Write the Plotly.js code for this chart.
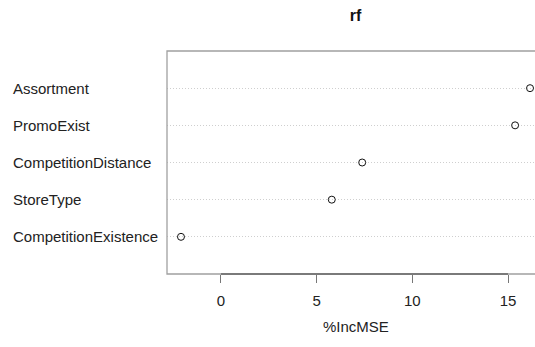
<!DOCTYPE html>
<html>
<head>
<meta charset="utf-8">
<script src="https://cdn.plot.ly/plotly-3.0.1.min.js"></script>
<style>
html,body{margin:0;padding:0;overflow:hidden;background:#fff;width:535px;height:347px;}
#chart{width:545px;height:347px;}
</style>
</head>
<body>
<div id="chart"></div>
<script>
// Data (bottom to top, as drawn)
var features = ['CompetitionExistence','StoreType','CompetitionDistance','PromoExist','Assortment'];
var incMSE = [-2.09, 5.79, 7.38, 15.37, 16.15];
var xTicks = [0, 5, 10, 15];
var xTickLabels = ['0', '5', '10', '15'];

var FONT = 'Liberation Sans, Arial, Helvetica, sans-serif';
var W = 545, H = 347, ML = 167, MR = 1, MT = 51, MB = 73;
var plotW = W - ML - MR;

var trace = {
  type: 'scatter',
  mode: 'markers',
  x: incMSE,
  y: features,
  marker: {symbol: 'circle-open', size: 7, color: '#111', line: {width: 1, color: '#111'}},
  hoverinfo: 'x+y',
  showlegend: false
};

var annotations = features.map(function(f){
  return {
    xref: 'paper', yref: 'y',
    x: (11 - ML) / plotW, y: f,
    xanchor: 'left', yanchor: 'middle',
    text: f, showarrow: false,
    font: {family: FONT, size: 15, color: '#222'}
  };
});
annotations.push({
  xref: 'paper', yref: 'paper',
  x: 0.5, y: -(326 - (H - MB)) / (H - MT - MB),
  xanchor: 'center', yanchor: 'middle',
  text: '%IncMSE', showarrow: false,
  font: {family: FONT, size: 15, color: '#222'}
});

var layout = {
  width: W, height: H,
  margin: {l: ML, r: MR, t: MT, b: MB, pad: 0},
  paper_bgcolor: '#fff', plot_bgcolor: '#fff',
  title: {
    text: '<b>rf</b>',
    font: {family: FONT, size: 16, color: '#111'},
    xref: 'paper', x: 0.5, xanchor: 'center',
    yref: 'container', y: 1 - 15 / H, yanchor: 'middle'
  },
  xaxis: {
    range: [-2.82, 16.88],
    tickvals: xTicks, ticktext: xTickLabels,
    ticks: 'outside', ticklen: 8, tickwidth: 1, tickcolor: '#777',
    ticklabelstandoff: 5,
    showgrid: false, zeroline: false, showline: false,
    tickfont: {family: FONT, size: 15, color: '#222'}
  },
  yaxis: {
    type: 'category',
    categoryorder: 'array', categoryarray: features,
    range: [-1, 5],
    showticklabels: false, ticks: '',
    showgrid: true, gridcolor: '#cfcfcf', gridwidth: 1, griddash: '1px,2px',
    zeroline: false, showline: false
  },
  shapes: [
    {type: 'rect', xref: 'paper', yref: 'paper', x0: 0, x1: 1, y0: 0, y1: 1,
     line: {color: '#a0a0a0', width: 1.3}},
    {type: 'line', xref: 'x', yref: 'paper', x0: xTicks[0], x1: xTicks[xTicks.length - 1], y0: 0, y1: 0,
     line: {color: '#666', width: 1.3}}
  ],
  annotations: annotations
};

Plotly.newPlot('chart', [trace], layout, {displayModeBar: false, staticPlot: true});
</script>
</body>
</html>
